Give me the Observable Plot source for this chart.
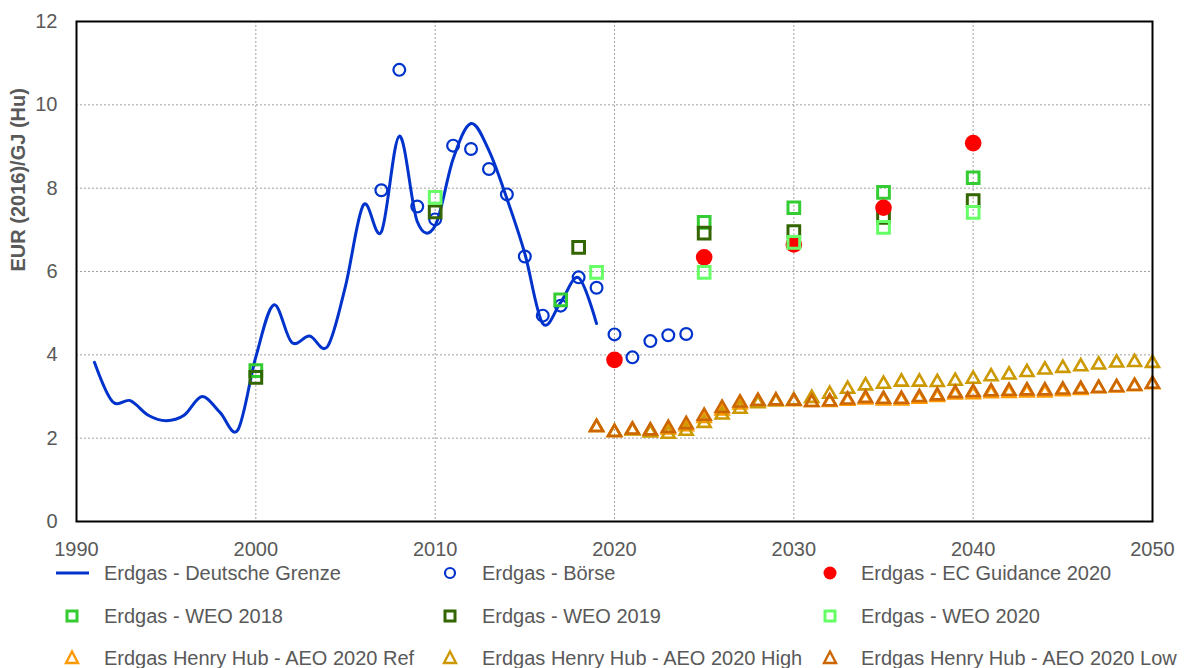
<!DOCTYPE html>
<html><head><meta charset="utf-8">
<script src="https://cdn.jsdelivr.net/npm/d3@7"></script>
<script src="https://cdn.jsdelivr.net/npm/@observablehq/plot@0.6"></script>
<style>
body{margin:0;background:#fff;font-family:"Liberation Sans",Arial,sans-serif;}
#wrap{position:relative;width:1185px;height:668px;overflow:hidden;}
#chart{position:absolute;left:0;top:0;}
.lm{position:absolute;}
.lt{position:absolute;font-size:20px;line-height:20px;color:#595959;white-space:nowrap;}
</style></head><body>
<div id="wrap"><div id="chart"></div><div id="legend"></div></div>
<script>
// ---- Data ----
const grenzeYears = [1991,1992,1993,1994,1995,1996,1997,1998,1999,2000,2001,2002,2003,2004,2005,2006,2007,2008,2009,2010,2011,2012,2013,2014,2015,2016,2017,2018,2019];
const grenze = [3.82,2.88,2.90,2.55,2.42,2.55,3.00,2.62,2.20,3.95,5.20,4.30,4.45,4.20,5.65,7.60,6.95,9.25,7.20,7.10,8.70,9.55,8.90,7.75,6.43,4.75,5.26,5.85,4.75];

const boerseYears = [2007,2008,2009,2010,2011,2012,2013,2014,2015,2016,2017,2018,2019,2020,2021,2022,2023,2024];
const boerse = [7.95,10.84,7.56,7.25,9.02,8.94,8.46,7.85,6.36,4.94,5.18,5.86,5.61,4.49,3.94,4.33,4.47,4.50];

const ecYears = [2020,2025,2030,2035,2040];
const ec = [3.88,6.34,6.65,7.53,9.08];

const weo2018Years = [2000,2017,2025,2030,2035,2040];
const weo2018 = [3.62,5.32,7.18,7.53,7.90,8.25];
const weo2019Years = [2000,2010,2018,2025,2030,2035,2040];
const weo2019 = [3.46,7.43,6.58,6.92,6.96,7.30,7.70];
const weo2020Years = [2010,2019,2025,2030,2035,2040];
const weo2020 = [7.78,5.98,5.98,6.70,7.06,7.42];

const aeoYears = [2019,2020,2021,2022,2023,2024,2025,2026,2027,2028,2029,2030,2031,2032,2033,2034,2035,2036,2037,2038,2039,2040,2041,2042,2043,2044,2045,2046,2047,2048,2049,2050];
const aeoRef  = [2.26,2.14,2.19,2.16,2.20,2.28,2.48,2.66,2.80,2.86,2.88,2.88,2.86,2.86,2.89,2.92,2.90,2.90,2.94,2.98,3.04,3.05,3.07,3.08,3.09,3.09,3.12,3.15,3.19,3.21,3.24,3.29];
const aeoHigh = [2.26,2.14,2.18,2.13,2.10,2.17,2.36,2.56,2.70,2.83,2.88,2.90,2.96,3.06,3.18,3.26,3.30,3.35,3.35,3.34,3.37,3.42,3.48,3.52,3.58,3.64,3.68,3.72,3.76,3.81,3.82,3.80];
const aeoLow  = [2.26,2.14,2.20,2.18,2.24,2.33,2.53,2.72,2.85,2.89,2.90,2.89,2.86,2.88,2.92,2.96,2.94,2.94,2.98,3.02,3.08,3.10,3.12,3.13,3.14,3.14,3.16,3.18,3.20,3.22,3.25,3.30];

const xTicks = [1990,2000,2010,2020,2030,2040,2050];
const yTicks = [0,2,4,6,8,10,12];
const yLabel = "EUR (2016)/GJ (Hu)";

const series = [
  {name:"Erdgas - Deutsche Grenze", kind:"line", color:"#0033cc"},
  {name:"Erdgas - Börse", kind:"circle", color:"#0033cc"},
  {name:"Erdgas - EC Guidance 2020", kind:"dot", color:"#ff0000"},
  {name:"Erdgas - WEO 2018", kind:"square", color:"#33cc33"},
  {name:"Erdgas - WEO 2019", kind:"square", color:"#336600"},
  {name:"Erdgas - WEO 2020", kind:"square", color:"#66ff66"},
  {name:"Erdgas Henry Hub - AEO 2020 Ref", kind:"triangle", color:"#ff9900"},
  {name:"Erdgas Henry Hub - AEO 2020 High", kind:"triangle", color:"#cc9900"},
  {name:"Erdgas Henry Hub - AEO 2020 Low", kind:"triangle", color:"#cc6600"}
];

const tbl = (xs, vs) => xs.map((x, i) => ({x, v: vs[i]}));

const sq = (data, color) => Plot.dot(data, {x:"x", y:"v", symbol:"square", r:6.6, stroke:color, strokeWidth:3, fill:"none"});
const tri = (data, color) => Plot.dot(data, {x:"x", y:"v", symbol:"triangle", r:4.8, stroke:color, strokeWidth:2.6, fill:"none"});

const chart = Plot.plot({
  width: 1185, height: 560,
  marginLeft: 76, marginRight: 33, marginTop: 21, marginBottom: 39,
  style: {fontFamily: "'Liberation Sans', Arial, sans-serif", fontSize: "20px", color: "#595959", background: "#fff"},
  x: {domain: [1990, 2050]},
  y: {domain: [0, 12]},
  marks: [
    Plot.gridX(xTicks, {stroke:"#a0a0a0", strokeOpacity:1, strokeDasharray:"2,2"}),
    Plot.gridY(yTicks, {stroke:"#a0a0a0", strokeOpacity:1, strokeDasharray:"2,2"}),
    Plot.line(tbl(grenzeYears, grenze), {x:"x", y:"v", stroke:"#0033cc", strokeWidth:3, curve:"cardinal"}),
    Plot.dot(tbl(boerseYears, boerse), {x:"x", y:"v", r:5.9, stroke:"#0033cc", strokeWidth:2.2, fill:"none"}),
    sq(tbl(weo2018Years, weo2018), "#33cc33"),
    sq(tbl(weo2019Years, weo2019), "#336600"),
    Plot.dot(tbl(ecYears, ec), {x:"x", y:"v", r:8.3, fill:"#ff0000", stroke:"none"}),
    sq(tbl(weo2020Years, weo2020), "#66ff66"),
    tri(tbl(aeoYears, aeoRef), "#ff9900"),
    tri(tbl(aeoYears, aeoHigh), "#cc9900"),
    tri(tbl(aeoYears, aeoLow), "#cc6600"),
    Plot.frame({stroke:"#000", strokeWidth:2}),
    Plot.axisX({ticks: xTicks, tickSize:0, tickPadding:20, tickFormat: d => String(d), label:null, fill:"#595959"}),
    Plot.axisY({ticks: yTicks, tickSize:0, tickPadding:19, label:null, fill:"#595959"}),
    Plot.text([yLabel], {frameAnchor:"left", dx:-58, rotate:-90, fontWeight:"bold", fontSize:20, fill:"#595959", text: d => d})
  ]
});
document.getElementById("chart").appendChild(chart);

// ---- Legend (HTML below the SVG) ----
const legend = document.getElementById("legend");
const rowsY = [573, 616, 658];
const colMarkX = [72, 450, 830];
const colTextX = [104, 482, 861];
const NS = "http://www.w3.org/2000/svg";
series.forEach((s, i) => {
  const row = Math.floor(i / 3), col = i % 3;
  const cy = rowsY[row], mx = colMarkX[col];
  const svg = document.createElementNS(NS, "svg");
  svg.setAttribute("width", 40); svg.setAttribute("height", 24);
  svg.setAttribute("class", "lm");
  svg.style.left = (mx - 20) + "px"; svg.style.top = (cy - 12) + "px";
  let el;
  if (s.kind === "line") {
    el = document.createElementNS(NS, "line");
    el.setAttribute("x1", 4); el.setAttribute("x2", 37); el.setAttribute("y1", 12); el.setAttribute("y2", 12);
    el.setAttribute("stroke", s.color); el.setAttribute("stroke-width", 3);
  } else if (s.kind === "circle") {
    el = document.createElementNS(NS, "circle");
    el.setAttribute("cx", 20); el.setAttribute("cy", 12); el.setAttribute("r", 5);
    el.setAttribute("fill", "none"); el.setAttribute("stroke", s.color); el.setAttribute("stroke-width", 2.2);
  } else if (s.kind === "dot") {
    el = document.createElementNS(NS, "circle");
    el.setAttribute("cx", 20); el.setAttribute("cy", 12); el.setAttribute("r", 6.5);
    el.setAttribute("fill", s.color);
  } else if (s.kind === "square") {
    el = document.createElementNS(NS, "rect");
    el.setAttribute("x", 15); el.setAttribute("y", 7); el.setAttribute("width", 10); el.setAttribute("height", 10);
    el.setAttribute("fill", "none"); el.setAttribute("stroke", s.color); el.setAttribute("stroke-width", 3);
  } else {
    el = document.createElementNS(NS, "path");
    el.setAttribute("d", "M20,5.5 L26,17 L14,17 Z");
    el.setAttribute("fill", "none"); el.setAttribute("stroke", s.color); el.setAttribute("stroke-width", 2.4);
  }
  svg.appendChild(el);
  legend.appendChild(svg);
  const t = document.createElement("div");
  t.className = "lt";
  t.textContent = s.name;
  t.style.left = colTextX[col] + "px";
  t.style.top = (cy - 10) + "px";
  legend.appendChild(t);
});
</script>
</body></html>
